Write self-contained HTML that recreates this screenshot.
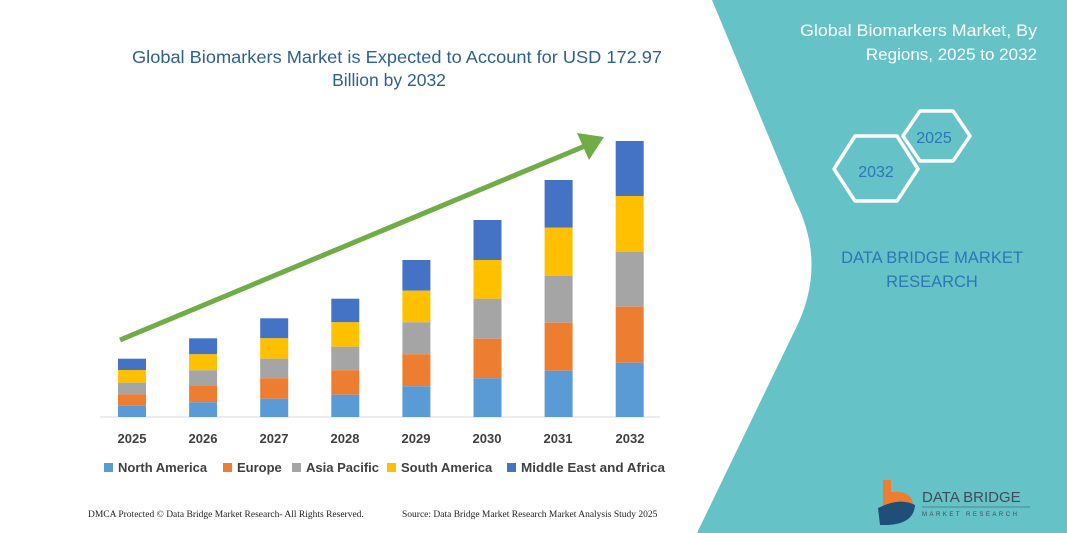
<!DOCTYPE html>
<html><head><meta charset="utf-8"><style>
body{margin:0;width:1067px;height:533px;overflow:hidden;background:#fff;font-family:"Liberation Sans",sans-serif;}
</style></head><body>
<svg width="1067" height="533" xmlns="http://www.w3.org/2000/svg" style="position:absolute;left:0;top:0">
<path d="M712,0 L1067,0 L1067,533 L697,533 L795,330 Q828,265 795,200 Z" fill="#65c3c8"/>
<text x="397" y="63" text-anchor="middle" font-size="17.5" fill="#2f5f8f" textLength="530" lengthAdjust="spacingAndGlyphs">Global Biomarkers Market is Expected to Account for USD 172.97</text>
<text x="389" y="86" text-anchor="middle" font-size="17.5" fill="#2f5f8f">Billion by 2032</text>
<line x1="100" y1="417" x2="660" y2="417" stroke="#d9d9d9" stroke-width="1"/>
<g id="bars"></g>
<line x1="120" y1="340" x2="585" y2="146" stroke="#70ad47" stroke-width="5"/>
<polygon points="604,137 577,133 589,160" fill="#70ad47"/>
<g font-size="13" font-weight="bold" fill="#404040" text-anchor="middle">
<text x="132" y="443">2025</text><text x="203" y="443">2026</text><text x="274" y="443">2027</text><text x="345" y="443">2028</text><text x="416" y="443">2029</text><text x="487" y="443">2030</text><text x="558" y="443">2031</text><text x="630" y="443">2032</text>
</g>
<g font-size="13" font-weight="bold" fill="#404040">
<rect x="104" y="463" width="9" height="9" fill="#5b9bd5"/><text x="118" y="472">North America</text>
<rect x="223" y="463" width="9" height="9" fill="#ed7d31"/><text x="237" y="472">Europe</text>
<rect x="292" y="463" width="9" height="9" fill="#a5a5a5"/><text x="306" y="472">Asia Pacific</text>
<rect x="387" y="463" width="9" height="9" fill="#ffc000"/><text x="401" y="472">South America</text>
<rect x="507" y="463" width="9" height="9" fill="#4472c4"/><text x="521" y="472" textLength="144" lengthAdjust="spacingAndGlyphs">Middle East and Africa</text>
</g>
<g font-family="Liberation Serif,serif" font-size="9.5" fill="#222">
<text x="88" y="517">DMCA Protected © Data Bridge Market Research- All Rights Reserved.</text>
<text x="402" y="517">Source: Data Bridge Market Research Market Analysis Study 2025</text>
</g>
<g fill="#fff" font-size="17" text-anchor="end">
<text x="1037" y="36" textLength="237" lengthAdjust="spacingAndGlyphs">Global Biomarkers Market, By</text>
<text x="1037" y="60">Regions, 2025 to 2032</text>
</g>
<g fill="none" stroke="#fff" stroke-width="3.5" stroke-linejoin="round">
<polygon points="903,136 920,111 953,111 970,136 953,161 920,161"/>
<polygon points="834,169 855,136 897,136 918,169 897,201 855,201"/>
</g>
<g fill="#2e75b6" font-size="16" text-anchor="middle">
<text x="934" y="143">2025</text>
<text x="876" y="177">2032</text>
</g>
<g fill="#2e75b6" font-size="16.5" text-anchor="middle">
<text x="932" y="263">DATA BRIDGE MARKET</text>
<text x="932" y="287">RESEARCH</text>
</g>
<path d="M883,480 L891,480 L891,492 Q912,490 913,505 Q910,518 893,518 L883,518 Z" fill="#ed7d31"/>
<path d="M878,508 Q900,497 915,505 Q914,524 887,525 L880,525 Z" fill="#1f4e79"/>
<text x="922" y="502" font-size="15" fill="#404a5a">DATA BRIDGE</text>
<line x1="922" y1="507" x2="1030" y2="507" stroke="#404a5a" stroke-width="0.6"/>
<text x="922" y="516" font-size="6" fill="#404a5a" letter-spacing="2.5">MARKET RESEARCH</text>
</svg>
<script>
var data=[[358.7,370,382.7,394.3,405.7],[338.3,354.3,370.3,386,402.3],[318.3,338.3,358.7,378.3,398.7],[298.7,322.3,346.7,370.3,394.7],[260,290.7,322.3,354.3,386.3],[220,260,298.7,338.7,378.3],[180,227.7,275.7,322.7,370.7],[141,196,252,306.7,362.7]];
var cols=["#4472c4","#ffc000","#a5a5a5","#ed7d31","#5b9bd5"];
var g=document.getElementById("bars"),s="";
data.forEach(function(b,i){var x=118+i*71.1;for(var k=0;k<5;k++){var y0=b[k],y1=k<4?b[k+1]:417;s+='<rect x="'+x+'" y="'+y0+'" width="28" height="'+(y1-y0)+'" fill="'+cols[k]+'"/>';}});
g.innerHTML=s;
</script>
</body></html>
